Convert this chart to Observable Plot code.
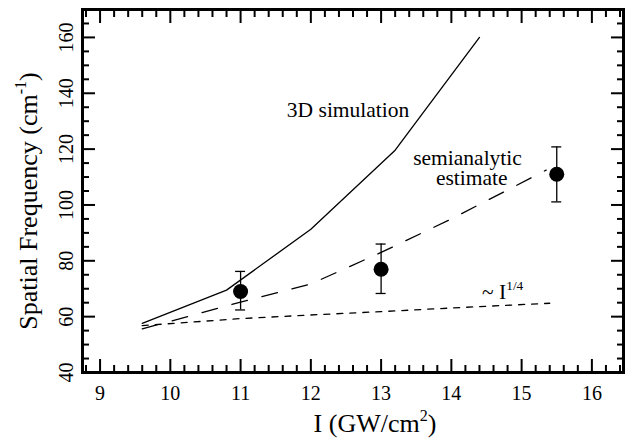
<!DOCTYPE html>
<html>
<head>
<meta charset="utf-8">
<script src="https://cdn.jsdelivr.net/npm/d3@7"></script>
<script src="https://cdn.jsdelivr.net/npm/@observablehq/plot@0.6"></script>
<style>
  html, body { margin: 0; padding: 0; background: white; }
</style>
</head>
<body>
<div id="chart"></div>
<script>
// ---- data ----
const xTicks = [9, 10, 11, 12, 13, 14, 15, 16];
const yTicks = [40, 60, 80, 100, 120, 140, 160];

const sim3dX = [9.6, 10.8, 12.0, 13.2, 14.4];
const sim3dY = [57.6, 69.5, 91.3, 119.6, 160];

const semiX = [9.6, 11.0, 12.0, 13.0, 14.0, 15.35];
const semiY = [55.6, 65.2, 71.7, 83.0, 95.0, 112.5];

const powX = [9.6, 11.0, 12.0, 13.0, 14.0, 15.4];
const powY = [56.8, 59.3, 60.6, 61.8, 63.1, 64.8];

const measX = [11, 13, 15.5];
const measY = [69, 77, 111];
const measLo = [62.4, 68.3, 101.1];
const measHi = [76.2, 86.0, 120.8];

const annX = [12.53, 14.23, 14.29, 14.73];
const annY = [133.9, 116.6, 109.5, 68.8];
const annText = ["3D simulation", "semianalytic", "estimate", "~ I^{1/4}"];

const xLabel = "I (GW/cm^{2})";
const yLabel = "Spatial Frequency (cm^{-1})";

// ---- derived tables ----
const toPts = (xs, ys) => xs.map((x, i) => ({x, y: ys[i]}));
const sim3d = toPts(sim3dX, sim3dY);
const semi = toPts(semiX, semiY);
const pow = toPts(powX, powY);
const meas = measX.map((x, i) => ({x, y: measY[i], lo: measLo[i], hi: measHi[i]}));
const ann = annX.map((x, i) => ({x, y: annY[i], t: annText[i]}));

const xMinor = d3.range(8.8, 16.45, 0.2).map(v => +v.toFixed(1)).filter(v => Math.abs(v - Math.round(v)) > 1e-6);
const yMinor = d3.range(45, 170, 5).filter(v => v % 20 !== 0);

const serif = "Liberation Serif";
const blank = () => "";
const tickStyle = {strokeWidth: 2, label: null, tickFormat: blank};

const chart = Plot.plot({
  width: 632,
  height: 441,
  marginLeft: 82,
  marginRight: 9,
  marginTop: 9,
  marginBottom: 69,
  x: {domain: [8.75, 16.45]},
  y: {domain: [40, 170]},
  style: {fontFamily: serif, fontSize: "20px", background: "white", color: "black"},
  marks: [
    // inward ticks on all four sides
    Plot.axisX(xTicks, {anchor: "bottom", tickSize: -13, ...tickStyle}),
    Plot.axisX(xMinor, {anchor: "bottom", tickSize: -7, ...tickStyle}),
    Plot.axisX(xTicks, {anchor: "top", tickSize: -13, ...tickStyle}),
    Plot.axisX(xMinor, {anchor: "top", tickSize: -7, ...tickStyle}),
    Plot.axisY(yTicks, {anchor: "left", tickSize: -13, ...tickStyle}),
    Plot.axisY(yMinor, {anchor: "left", tickSize: -7, ...tickStyle}),
    Plot.axisY(yTicks, {anchor: "right", tickSize: -13, ...tickStyle}),
    Plot.axisY(yMinor, {anchor: "right", tickSize: -7, ...tickStyle}),
    // tick labels
    Plot.axisX(xTicks, {anchor: "bottom", tickSize: 0, tickPadding: 13, label: null, fontSize: 20, fontFamily: serif}),
    Plot.axisY(yTicks, {anchor: "left", tickSize: 0, tickRotate: -90, tickPadding: 10, label: null, fontSize: 20, fontFamily: serif}),
    // curves
    Plot.line(sim3d, {x: "x", y: "y", stroke: "black", strokeWidth: 1.3}),
    Plot.line(semi, {x: "x", y: "y", stroke: "black", strokeWidth: 1.3, strokeDasharray: "16,15"}),
    Plot.line(pow, {x: "x", y: "y", stroke: "black", strokeWidth: 1.3, strokeDasharray: "6,7"}),
    // measurements with error bars
    Plot.ruleX(meas, {x: "x", y1: "lo", y2: "hi", stroke: "black", strokeWidth: 1.3}),
    Plot.ruleY(meas, {y: "lo", x1: "x", x2: "x", insetLeft: -5, insetRight: -5, stroke: "black", strokeWidth: 1.3}),
    Plot.ruleY(meas, {y: "hi", x1: "x", x2: "x", insetLeft: -5, insetRight: -5, stroke: "black", strokeWidth: 1.3}),
    Plot.dot(meas, {x: "x", y: "y", r: 7.5, fill: "black"}),
    // annotations
    Plot.text(ann, {x: "x", y: "y", text: "t", fontSize: 21.5, fontFamily: serif, fill: "black"}),
    // axis labels
    Plot.text([xLabel], {frameAnchor: "bottom", textAnchor: "middle", lineAnchor: "middle", dy: 51, dx: 22, fontSize: 26, fontFamily: serif, fill: "black"}),
    Plot.text([yLabel], {frameAnchor: "left", textAnchor: "middle", lineAnchor: "middle", dx: -54, dy: 10, rotate: -90, fontSize: 26, fontFamily: serif, fill: "black"}),
    // frame
    Plot.frame({stroke: "black", strokeWidth: 3})
  ]
});

document.getElementById("chart").appendChild(chart);

// superscripts: turn "a^{b}c" into tspans
d3.select(chart).selectAll("text").each(function() {
  const el = this;
  const txt = el.textContent;
  const m = txt.match(/^(.*)\^\{(.*)\}(.*)$/);
  if (!m) return;
  const fs = parseFloat(getComputedStyle(el).fontSize) || 20;
  el.textContent = "";
  const ns = "http://www.w3.org/2000/svg";
  const t1 = document.createElementNS(ns, "tspan");
  t1.textContent = m[1];
  el.appendChild(t1);
  const t2 = document.createElementNS(ns, "tspan");
  t2.textContent = m[2];
  t2.setAttribute("font-size", (fs * 0.62).toFixed(1));
  t2.setAttribute("dy", (-fs * 0.42).toFixed(1));
  el.appendChild(t2);
  if (m[3]) {
    const t3 = document.createElementNS(ns, "tspan");
    t3.textContent = m[3];
    t3.setAttribute("dy", (fs * 0.42).toFixed(1));
    el.appendChild(t3);
  }
});
</script>
</body>
</html>
